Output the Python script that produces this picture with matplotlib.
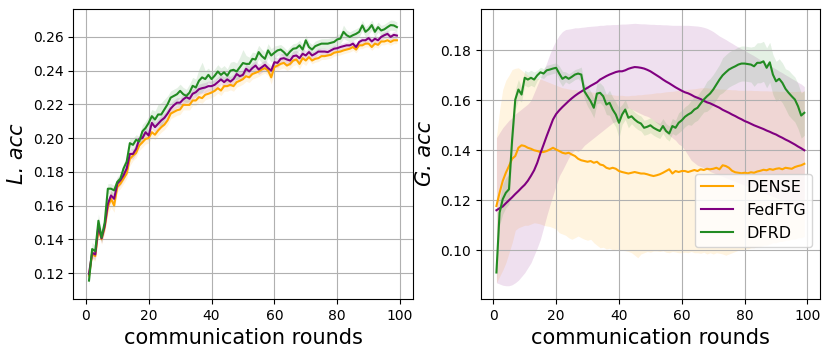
import numpy as np
import matplotlib
matplotlib.use('Agg')
import matplotlib.pyplot as plt

rounds = np.arange(1, 100)

# ---- local accuracy (left) ----
dense_l = [0.1185, 0.1313, 0.1300, 0.1460, 0.1400, 0.1470, 0.1590, 0.1640, 0.1600, 0.1710,
           0.1730, 0.1760, 0.1790, 0.1877, 0.1896, 0.1912, 0.1956, 0.1975, 0.1995, 0.2000,
           0.2035, 0.2020, 0.2045, 0.2065, 0.2080, 0.2105, 0.2145, 0.2155, 0.2165, 0.2170,
           0.2197, 0.2197, 0.2197, 0.2223, 0.2223, 0.2243, 0.2237, 0.2257, 0.2263, 0.2270,
           0.2280, 0.2296, 0.2282, 0.2308, 0.2308, 0.2316, 0.2308, 0.2332, 0.2340, 0.2350,
           0.2367, 0.2360, 0.2380, 0.2387, 0.2395, 0.2407, 0.2415, 0.2400, 0.2360, 0.2421,
           0.2430, 0.2440, 0.2446, 0.2430, 0.2440, 0.2460, 0.2466, 0.2440, 0.2474, 0.2460,
           0.2480, 0.2460, 0.2470, 0.2474, 0.2486, 0.2486, 0.2490, 0.2494, 0.2506, 0.2510,
           0.2513, 0.2520, 0.2525, 0.2530, 0.2540, 0.2525, 0.2550, 0.2550, 0.2560, 0.2560,
           0.2540, 0.2560, 0.2553, 0.2573, 0.2573, 0.2580, 0.2570, 0.2580, 0.2580]
fedftg_l = [0.1195, 0.1320, 0.1310, 0.1480, 0.1405, 0.1480, 0.1610, 0.1660, 0.1640, 0.1730,
            0.1750, 0.1780, 0.1820, 0.1906, 0.1906, 0.1936, 0.1995, 0.2000, 0.2035, 0.2015,
            0.2090, 0.2065, 0.2085, 0.2105, 0.2120, 0.2145, 0.2175, 0.2195, 0.2210, 0.2210,
            0.2230, 0.2243, 0.2233, 0.2263, 0.2272, 0.2290, 0.2296, 0.2300, 0.2308, 0.2308,
            0.2316, 0.2332, 0.2348, 0.2332, 0.2348, 0.2335, 0.2350, 0.2380, 0.2367, 0.2375,
            0.2411, 0.2395, 0.2415, 0.2430, 0.2407, 0.2420, 0.2434, 0.2415, 0.2400, 0.2450,
            0.2446, 0.2470, 0.2474, 0.2466, 0.2460, 0.2486, 0.2490, 0.2474, 0.2500, 0.2490,
            0.2510, 0.2490, 0.2500, 0.2513, 0.2513, 0.2513, 0.2510, 0.2520, 0.2530, 0.2533,
            0.2540, 0.2545, 0.2550, 0.2550, 0.2560, 0.2540, 0.2570, 0.2580, 0.2580, 0.2593,
            0.2573, 0.2589, 0.2580, 0.2600, 0.2610, 0.2618, 0.2600, 0.2612, 0.2608]
dfrd_l = [0.1155, 0.1342, 0.1330, 0.1510, 0.1410, 0.1500, 0.1700, 0.1700, 0.1690, 0.1740,
          0.1760, 0.1820, 0.1860, 0.1970, 0.1960, 0.1990, 0.1980, 0.2040, 0.2060, 0.2090,
          0.2130, 0.2110, 0.2140, 0.2140, 0.2170, 0.2200, 0.2240, 0.2250, 0.2260, 0.2280,
          0.2260, 0.2250, 0.2270, 0.2310, 0.2300, 0.2340, 0.2360, 0.2350, 0.2375, 0.2350,
          0.2370, 0.2395, 0.2375, 0.2390, 0.2370, 0.2400, 0.2405, 0.2395, 0.2420, 0.2445,
          0.2440, 0.2440, 0.2470, 0.2466, 0.2510, 0.2486, 0.2470, 0.2520, 0.2490, 0.2506,
          0.2520, 0.2525, 0.2510, 0.2490, 0.2513, 0.2530, 0.2533, 0.2550, 0.2525, 0.2580,
          0.2540, 0.2525, 0.2545, 0.2553, 0.2560, 0.2560, 0.2560, 0.2565, 0.2570, 0.2585,
          0.2590, 0.2630, 0.2610, 0.2600, 0.2610, 0.2618, 0.2630, 0.2668, 0.2630, 0.2645,
          0.2670, 0.2630, 0.2658, 0.2638, 0.2645, 0.2658, 0.2670, 0.2668, 0.2658]

dense_l_std = [0.002, 0.003, 0.003, 0.003, 0.003, 0.003, 0.004, 0.005, 0.004, 0.003,
               0.003, 0.003, 0.003, 0.004, 0.003, 0.003, 0.003, 0.003, 0.003, 0.003,
               0.003, 0.003, 0.003, 0.003, 0.003, 0.003, 0.003, 0.003, 0.003, 0.003,
               0.003, 0.003, 0.003, 0.003, 0.003, 0.003, 0.003, 0.003, 0.003, 0.003,
               0.003, 0.003, 0.003, 0.003, 0.003, 0.003, 0.003, 0.003, 0.003, 0.003,
               0.003, 0.003, 0.003, 0.003, 0.003, 0.003, 0.003, 0.003, 0.004, 0.003,
               0.003, 0.003, 0.003, 0.003, 0.003, 0.003, 0.003, 0.003, 0.003, 0.003,
               0.002, 0.002, 0.002, 0.002, 0.002, 0.002, 0.002, 0.002, 0.002, 0.002,
               0.002, 0.002, 0.002, 0.002, 0.002, 0.002, 0.002, 0.002, 0.002, 0.002,
               0.002, 0.002, 0.002, 0.002, 0.002, 0.002, 0.002, 0.002, 0.002]
fedftg_l_std = [0.003, 0.003, 0.003, 0.003, 0.003, 0.003, 0.003, 0.003, 0.003, 0.003,
                0.003, 0.003, 0.003, 0.003, 0.003, 0.003, 0.003, 0.003, 0.003, 0.003,
                0.003, 0.003, 0.003, 0.003, 0.003, 0.003, 0.003, 0.003, 0.003, 0.003,
                0.003, 0.003, 0.003, 0.003, 0.003, 0.003, 0.003, 0.003, 0.003, 0.003,
                0.003, 0.003, 0.003, 0.003, 0.003, 0.003, 0.003, 0.003, 0.003, 0.003,
                0.003, 0.003, 0.003, 0.003, 0.003, 0.003, 0.003, 0.003, 0.003, 0.003,
                0.003, 0.003, 0.003, 0.003, 0.003, 0.003, 0.003, 0.003, 0.003, 0.003,
                0.002, 0.002, 0.002, 0.002, 0.002, 0.002, 0.002, 0.002, 0.002, 0.002,
                0.002, 0.002, 0.002, 0.002, 0.002, 0.002, 0.002, 0.002, 0.002, 0.002,
                0.002, 0.002, 0.002, 0.002, 0.002, 0.002, 0.002, 0.002, 0.002]
dfrd_l_std = [0.003, 0.004, 0.003, 0.004, 0.003, 0.003, 0.003, 0.003, 0.003, 0.003,
              0.003, 0.003, 0.003, 0.003, 0.004, 0.003, 0.003, 0.004, 0.004, 0.004,
              0.004, 0.005, 0.006, 0.007, 0.006, 0.005, 0.004, 0.004, 0.004, 0.004,
              0.004, 0.004, 0.005, 0.005, 0.005, 0.007, 0.009, 0.005, 0.004, 0.004,
              0.004, 0.004, 0.004, 0.004, 0.004, 0.005, 0.005, 0.005, 0.006, 0.008,
              0.005, 0.004, 0.004, 0.004, 0.004, 0.004, 0.004, 0.004, 0.004, 0.004,
              0.003, 0.003, 0.003, 0.003, 0.003, 0.003, 0.003, 0.003, 0.003, 0.003,
              0.003, 0.003, 0.003, 0.003, 0.003, 0.003, 0.003, 0.003, 0.003, 0.003,
              0.003, 0.004, 0.003, 0.003, 0.003, 0.003, 0.003, 0.003, 0.003, 0.003,
              0.003, 0.003, 0.003, 0.003, 0.003, 0.003, 0.003, 0.003, 0.003]

# ---- global accuracy (right) ----
dense_g = [0.1177, 0.1230, 0.1277, 0.1310, 0.1337, 0.1366, 0.1377, 0.1410, 0.1420, 0.1417,
           0.1410, 0.1406, 0.1400, 0.1397, 0.1393, 0.1393, 0.1397, 0.1403, 0.1410, 0.1403,
           0.1397, 0.1390, 0.1387, 0.1390, 0.1383, 0.1377, 0.1366, 0.1360, 0.1357, 0.1354,
           0.1357, 0.1350, 0.1354, 0.1343, 0.1340, 0.1330, 0.1326, 0.1330, 0.1326, 0.1317,
           0.1313, 0.1310, 0.1307, 0.1310, 0.1313, 0.1310, 0.1307, 0.1307, 0.1304, 0.1300,
           0.1297, 0.1300, 0.1304, 0.1310, 0.1317, 0.1324, 0.1307, 0.1317, 0.1313, 0.1317,
           0.1317, 0.1313, 0.1317, 0.1321, 0.1317, 0.1324, 0.1321, 0.1326, 0.1324, 0.1326,
           0.1330, 0.1324, 0.1340, 0.1337, 0.1330, 0.1318, 0.1312, 0.1310, 0.1308, 0.1310,
           0.1308, 0.1312, 0.1310, 0.1315, 0.1318, 0.1322, 0.1320, 0.1325, 0.1322, 0.1326,
           0.1328, 0.1324, 0.1330, 0.1328, 0.1326, 0.1333, 0.1337, 0.1340, 0.1346]
dense_g_lo = [0.0870, 0.0895, 0.0920, 0.0950, 0.0990, 0.1030, 0.1080, 0.1090, 0.1095, 0.1100,
              0.1100, 0.1105, 0.1110, 0.1108, 0.1105, 0.1100, 0.1097, 0.1095, 0.1090, 0.1085,
              0.1070, 0.1065, 0.1060, 0.1050, 0.1044, 0.1050, 0.1057, 0.1050, 0.1044, 0.1040,
              0.1044, 0.1030, 0.1020, 0.1010, 0.1012, 0.1005, 0.1008, 0.1002, 0.1004, 0.1004,
              0.1000, 0.0998, 0.0995, 0.0990, 0.0980, 0.0970, 0.0985, 0.0990, 0.0995, 0.0992,
              0.0997, 0.0997, 0.0995, 0.0998, 0.0992, 0.0990, 0.0995, 0.0993, 0.0990, 0.0990,
              0.0992, 0.0990, 0.0995, 0.0990, 0.0990, 0.0988, 0.0992, 0.0985, 0.0990, 0.0985,
              0.0990, 0.0988, 0.0985, 0.0980, 0.0985, 0.0990, 0.0995, 0.1000, 0.1000, 0.1005,
              0.1005, 0.1010, 0.1010, 0.1015, 0.1015, 0.1020, 0.1020, 0.1025, 0.1030, 0.1030,
              0.1035, 0.1035, 0.1040, 0.1040, 0.1045, 0.1045, 0.1050, 0.1050, 0.1055]
dense_g_hi = [0.1457, 0.1560, 0.1643, 0.1680, 0.1700, 0.1723, 0.1728, 0.1730, 0.1720, 0.1710,
              0.1700, 0.1695, 0.1690, 0.1688, 0.1685, 0.1680, 0.1675, 0.1670, 0.1665, 0.1660,
              0.1655, 0.1650, 0.1648, 0.1645, 0.1643, 0.1643, 0.1640, 0.1638, 0.1636, 0.1635,
              0.1634, 0.1632, 0.1630, 0.1628, 0.1627, 0.1625, 0.1624, 0.1622, 0.1620, 0.1620,
              0.1620, 0.1618, 0.1618, 0.1620, 0.1620, 0.1622, 0.1622, 0.1624, 0.1625, 0.1626,
              0.1628, 0.1630, 0.1630, 0.1632, 0.1634, 0.1635, 0.1636, 0.1638, 0.1640, 0.1640,
              0.1642, 0.1644, 0.1645, 0.1646, 0.1648, 0.1650, 0.1650, 0.1650, 0.1648, 0.1648,
              0.1646, 0.1645, 0.1645, 0.1644, 0.1643, 0.1642, 0.1642, 0.1640, 0.1640, 0.1640,
              0.1640, 0.1640, 0.1639, 0.1639, 0.1638, 0.1638, 0.1638, 0.1637, 0.1637, 0.1637,
              0.1636, 0.1636, 0.1636, 0.1635, 0.1635, 0.1635, 0.1636, 0.1636, 0.1636]

fedftg_g = [0.1160, 0.1168, 0.1175, 0.1188, 0.1200, 0.1212, 0.1225, 0.1237, 0.1250, 0.1262,
            0.1278, 0.1298, 0.1320, 0.1350, 0.1388, 0.1422, 0.1457, 0.1490, 0.1523, 0.1545,
            0.1560, 0.1573, 0.1585, 0.1597, 0.1608, 0.1618, 0.1627, 0.1635, 0.1643, 0.1650,
            0.1658, 0.1665, 0.1672, 0.1683, 0.1690, 0.1697, 0.1703, 0.1708, 0.1713, 0.1716,
            0.1716, 0.1720, 0.1726, 0.1730, 0.1733, 0.1732, 0.1730, 0.1727, 0.1722, 0.1716,
            0.1708, 0.1700, 0.1692, 0.1683, 0.1675, 0.1668, 0.1660, 0.1652, 0.1645, 0.1638,
            0.1632, 0.1628, 0.1622, 0.1615, 0.1610, 0.1605, 0.1598, 0.1592, 0.1588, 0.1582,
            0.1576, 0.1570, 0.1562, 0.1556, 0.1550, 0.1543, 0.1537, 0.1530, 0.1524, 0.1517,
            0.1512, 0.1506, 0.1500, 0.1495, 0.1490, 0.1485, 0.1479, 0.1474, 0.1468, 0.1463,
            0.1456, 0.1450, 0.1443, 0.1437, 0.1430, 0.1423, 0.1415, 0.1408, 0.1400]
fedftg_g_lo = [0.0870, 0.0865, 0.0860, 0.0858, 0.0858, 0.0862, 0.0870, 0.0880, 0.0895, 0.0910,
               0.0930, 0.0950, 0.0980, 0.1010, 0.1044, 0.1090, 0.1137, 0.1180, 0.1220, 0.1260,
               0.1297, 0.1320, 0.1345, 0.1370, 0.1390, 0.1400, 0.1395, 0.1405, 0.1420, 0.1430,
               0.1440, 0.1450, 0.1460, 0.1470, 0.1480, 0.1490, 0.1500, 0.1510, 0.1515, 0.1520,
               0.1545, 0.1565, 0.1570, 0.1565, 0.1558, 0.1552, 0.1546, 0.1540, 0.1536, 0.1530,
               0.1520, 0.1510, 0.1500, 0.1480, 0.1470, 0.1460, 0.1450, 0.1440, 0.1425, 0.1417,
               0.1400, 0.1380, 0.1360, 0.1350, 0.1340, 0.1335, 0.1330, 0.1323, 0.1315, 0.1310,
               0.1305, 0.1300, 0.1295, 0.1290, 0.1285, 0.1280, 0.1275, 0.1270, 0.1265, 0.1260,
               0.1255, 0.1250, 0.1245, 0.1240, 0.1235, 0.1230, 0.1225, 0.1220, 0.1215, 0.1210,
               0.1205, 0.1200, 0.1195, 0.1190, 0.1185, 0.1180, 0.1175, 0.1170, 0.1165]
fedftg_g_hi = [0.1450, 0.1470, 0.1490, 0.1505, 0.1520, 0.1530, 0.1545, 0.1555, 0.1565, 0.1575,
               0.1585, 0.1600, 0.1630, 0.1660, 0.1690, 0.1720, 0.1750, 0.1785, 0.1815, 0.1840,
               0.1860, 0.1875, 0.1883, 0.1885, 0.1887, 0.1890, 0.1890, 0.1892, 0.1893, 0.1895,
               0.1896, 0.1897, 0.1898, 0.1900, 0.1900, 0.1902, 0.1902, 0.1903, 0.1903, 0.1904,
               0.1905, 0.1905, 0.1906, 0.1907, 0.1908, 0.1907, 0.1906, 0.1906, 0.1905, 0.1904,
               0.1904, 0.1903, 0.1903, 0.1902, 0.1902, 0.1901, 0.1900, 0.1900, 0.1900, 0.1900,
               0.1900, 0.1900, 0.1899, 0.1898, 0.1897, 0.1895, 0.1892, 0.1888, 0.1882, 0.1875,
               0.1866, 0.1857, 0.1850, 0.1843, 0.1835, 0.1828, 0.1820, 0.1813, 0.1806, 0.1800,
               0.1792, 0.1785, 0.1778, 0.1770, 0.1762, 0.1755, 0.1747, 0.1740, 0.1732, 0.1725,
               0.1717, 0.1710, 0.1702, 0.1695, 0.1687, 0.1680, 0.1672, 0.1665, 0.1655]

dfrd_g = [0.0911, 0.1150, 0.1204, 0.1230, 0.1244, 0.1443, 0.1603, 0.1643, 0.1623, 0.1690,
          0.1683, 0.1690, 0.1683, 0.1700, 0.1712, 0.1707, 0.1720, 0.1723, 0.1727, 0.1730,
          0.1707, 0.1686, 0.1694, 0.1686, 0.1694, 0.1703, 0.1707, 0.1703, 0.1636, 0.1616,
          0.1596, 0.1570, 0.1627, 0.1630, 0.1616, 0.1583, 0.1590, 0.1563, 0.1543, 0.1510,
          0.1543, 0.1563, 0.1530, 0.1536, 0.1523, 0.1513, 0.1507, 0.1490, 0.1494, 0.1500,
          0.1490, 0.1483, 0.1477, 0.1497, 0.1477, 0.1467, 0.1497, 0.1490, 0.1510, 0.1520,
          0.1534, 0.1543, 0.1550, 0.1563, 0.1570, 0.1587, 0.1603, 0.1616, 0.1627, 0.1643,
          0.1663, 0.1683, 0.1700, 0.1712, 0.1723, 0.1730, 0.1736, 0.1743, 0.1747, 0.1747,
          0.1745, 0.1743, 0.1736, 0.1750, 0.1750, 0.1756, 0.1730, 0.1752, 0.1703, 0.1676,
          0.1686, 0.1670, 0.1646, 0.1630, 0.1616, 0.1603, 0.1576, 0.1539, 0.1550]
dfrd_g_spread = [0.003, 0.005, 0.006, 0.006, 0.006, 0.005, 0.004, 0.004, 0.003, 0.003,
                 0.003, 0.003, 0.003, 0.002, 0.002, 0.002, 0.002, 0.002, 0.002, 0.002,
                 0.003, 0.003, 0.002, 0.002, 0.002, 0.002, 0.002, 0.003, 0.003, 0.004,
                 0.004, 0.004, 0.004, 0.004, 0.004, 0.004, 0.005, 0.005, 0.005, 0.006,
                 0.004, 0.004, 0.004, 0.003, 0.003, 0.003, 0.003, 0.003, 0.003, 0.003,
                 0.003, 0.003, 0.003, 0.003, 0.003, 0.003, 0.003, 0.003, 0.004, 0.004,
                 0.004, 0.004, 0.005, 0.005, 0.005, 0.005, 0.005, 0.006, 0.006, 0.006,
                 0.006, 0.006, 0.007, 0.007, 0.007, 0.007, 0.007, 0.007, 0.007, 0.007,
                 0.007, 0.007, 0.008, 0.008, 0.008, 0.008, 0.008, 0.008, 0.008, 0.008,
                 0.008, 0.008, 0.008, 0.009, 0.009, 0.009, 0.009, 0.009, 0.009]

names = ['DENSE', 'FedFTG', 'DFRD']
colors = ['orange', 'purple', 'forestgreen']

fig, (ax1, ax2) = plt.subplots(1, 2, figsize=(8.3, 3.57), dpi=100)
plt.subplots_adjust(left=0.0883, right=0.988, top=0.976, bottom=0.1625, wspace=0.2007)

# left: local acc
for mean, std, c, n in zip([dense_l, fedftg_l, dfrd_l],
                           [dense_l_std, fedftg_l_std, dfrd_l_std], colors, names):
    mean = np.array(mean)
    std = np.array(std)
    ax1.plot(rounds, mean, color=c, lw=1.5, label=n)
    ax1.fill_between(rounds, mean - std, mean + std, color=c, alpha=0.12, lw=0)

# right: global acc
lows = [dense_g_lo, fedftg_g_lo, np.array(dfrd_g) - np.array(dfrd_g_spread)]
highs = [dense_g_hi, fedftg_g_hi, np.array(dfrd_g) + np.array(dfrd_g_spread)]
for mean, lo, hi, c, n in zip([dense_g, fedftg_g, dfrd_g], lows, highs, colors, names):
    ax2.plot(rounds, mean, color=c, lw=1.5, label=n)
    ax2.fill_between(rounds, lo, hi, color=c, alpha=0.12, lw=0)

ax1.set_xlim(-4, 104)
ax2.set_xlim(-4, 104)
ax1.set_ylim(0.1046, 0.2768)
ax2.set_ylim(0.0805, 0.1967)
ax1.set_yticks([0.12, 0.14, 0.16, 0.18, 0.20, 0.22, 0.24, 0.26])
ax2.set_yticks([0.10, 0.12, 0.14, 0.16, 0.18])

for ax in (ax1, ax2):
    ax.grid(True)
    ax.set_xlabel('communication rounds', fontsize=15)
    ax.tick_params(labelsize=10)

ax1.set_ylabel('L. acc', fontsize=15, fontstyle='italic')
ax2.set_ylabel('G. acc', fontsize=15, fontstyle='italic')
ax2.legend(loc='lower right', bbox_to_anchor=(1.0, 0.15), fontsize=11.5)

plt.savefig('out.png')
